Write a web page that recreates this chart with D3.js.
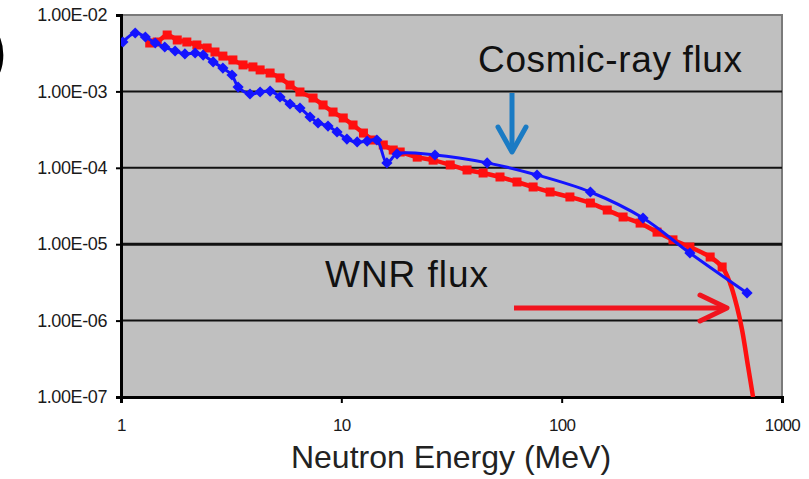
<!DOCTYPE html>
<html>
<head>
<meta charset="utf-8">
<script src="https://cdn.jsdelivr.net/npm/d3@7"></script>
<style>
  body { margin: 0; background: #fff; }
  text { font-family: "Liberation Sans", Arial, sans-serif; }
</style>
</head>
<body>
<div id="chart"></div>
<script>
// Cosmic-ray flux (blue, diamonds)
const cosmicEnergy = [1.02, 1.16, 1.29, 1.43, 1.58, 1.76, 1.95, 2.17, 2.36, 2.62, 2.9, 3.19, 3.4, 3.85, 4.28, 4.75, 5.27, 5.85, 6.49, 7.21, 7.84, 8.7, 9.56, 10.6, 11.8, 13.1, 14.5, 16.1, 17.9, 26.6, 45.9, 77.3, 135, 234, 382, 694];
const cosmicFlux = [4.43e-3, 5.81e-3, 5.15e-3, 4.3e-3, 3.81e-3, 3.38e-3, 3.09e-3, 3.18e-3, 2.99e-3, 2.43e-3, 2.02e-3, 1.64e-3, 1.14e-3, 9.25e-4, 9.82e-4, 1.01e-3, 8.45e-4, 6.84e-4, 6.06e-4, 4.62e-4, 3.86e-4, 3.52e-4, 2.94e-4, 2.38e-4, 2.18e-4, 2.24e-4, 2.31e-4, 1.16e-4, 1.52e-4, 1.47e-4, 1.16e-4, 8.05e-5, 4.82e-5, 2.2e-5, 7.67e-6, 2.3e-6];

// WNR flux (red, squares)
const wnrEnergy = [1.35, 1.46, 1.62, 1.8, 1.99, 2.21, 2.46, 2.67, 2.9, 3.22, 3.58, 3.97, 4.28, 4.75, 5.27, 5.85, 6.49, 7.44, 8.26, 9.17, 10.2, 11.3, 12.6, 13.9, 15.5, 17.2, 18.5, 22.1, 26.1, 31.2, 37.2, 44, 52.5, 62.7, 74.2, 88.6, 109, 135, 161, 190, 227, 271, 320, 382, 472, 535, 581, 625, 659, 702, 739];
const wnrFlux = [4.3e-3, 4.43e-3, 5.47e-3, 4.71e-3, 4.43e-3, 4.05e-3, 3.7e-3, 3.28e-3, 2.9e-3, 2.58e-3, 2.22e-3, 2.09e-3, 1.91e-3, 1.74e-3, 1.5e-3, 1.21e-3, 9.82e-4, 8.2e-4, 6.64e-4, 5.37e-4, 4.49e-4, 3.63e-4, 2.85e-4, 2.31e-4, 1.99e-4, 1.71e-4, 1.61e-4, 1.38e-4, 1.26e-4, 1.09e-4, 9.36e-5, 8.55e-5, 7.58e-5, 6.52e-5, 5.61e-5, 4.82e-5, 4.15e-5, 3.46e-5, 2.8e-5, 2.27e-5, 1.89e-5, 1.44e-5, 1.14e-5, 9.19e-6, 6.8e-6, 5.03e-6, 3.1e-6, 1.51e-6, 7.53e-7, 2.47e-7, 1.0e-7];
const wnrMarkerMax = 560; // squares only up to this energy

const xTicks = [1, 10, 100, 1000];
const xTickLabels = ['1', '10', '100', '1000'];
const yTicks = [1e-2, 1e-3, 1e-4, 1e-5, 1e-6, 1e-7];
const yTickLabels = ['1.00E-02', '1.00E-03', '1.00E-04', '1.00E-05', '1.00E-06', '1.00E-07'];

const W = 809, H = 479;
const plot = {left: 121, right: 782, top: 15, bottom: 397};

const svg = d3.select('#chart')
  .append('svg')
  .attr('width', W)
  .attr('height', H);

const x = d3.scaleLog().domain([1, 1000]).range([plot.left, plot.right]);
const y = d3.scaleLog().domain([1e-7, 1e-2]).range([plot.bottom, plot.top]);

svg.append('defs').append('clipPath')
  .attr('id', 'clip')
  .append('rect')
  .attr('x', plot.left).attr('y', plot.top)
  .attr('width', plot.right - plot.left)
  .attr('height', plot.bottom - plot.top);

// Plot background
svg.append('rect')
  .attr('x', plot.left).attr('y', plot.top)
  .attr('width', plot.right - plot.left)
  .attr('height', plot.bottom - plot.top)
  .attr('fill', '#c0c0c0')
  .attr('stroke', '#7a7a7a')
  .attr('stroke-width', 2);

// Gridlines
svg.append('g')
  .selectAll('line')
  .data(yTicks.slice(1, -1))
  .enter()
  .append('line')
  .attr('x1', plot.left).attr('x2', plot.right)
  .attr('y1', d => y(d)).attr('y2', d => y(d))
  .attr('stroke', '#111')
  .attr('stroke-width', d => d === 1e-5 ? 3 : 2);

// Y axis
const yAxis = svg.append('g')
  .attr('transform', `translate(${plot.left},0)`)
  .call(d3.axisLeft(y).tickValues(yTicks).tickSize(5).tickFormat((d, i) => yTickLabels[i]));
yAxis.select('.domain').attr('stroke', '#000').attr('stroke-width', 3);
yAxis.selectAll('.tick line').attr('stroke', '#000').attr('stroke-width', 2);
yAxis.selectAll('.tick text')
  .attr('x', -14)
  .style('font-size', '18px')
  .style('letter-spacing', '-0.4px')
  .attr('fill', '#1a1a1a');

// X axis
const xAxis = svg.append('g')
  .attr('transform', `translate(0,${plot.bottom})`)
  .call(d3.axisBottom(x).tickValues(xTicks).tickSize(6).tickFormat((d, i) => xTickLabels[i]));
xAxis.select('.domain').attr('stroke', '#000').attr('stroke-width', 3);
xAxis.selectAll('.tick line').attr('stroke', '#000').attr('stroke-width', 2);
xAxis.selectAll('.tick text')
  .attr('y', 22)
  .style('font-size', '17px')
  .style('letter-spacing', '-0.6px')
  .attr('fill', '#1a1a1a');

svg.append('text')
  .attr('x', 451).attr('y', 468)
  .attr('text-anchor', 'middle')
  .style('font-size', '32px')
  .attr('fill', '#222')
  .text('Neutron Energy (MeV)');

// Series
const cosmic = cosmicEnergy.map((e, i) => ({e, f: cosmicFlux[i]}));
const wnr = wnrEnergy.map((e, i) => ({e, f: wnrFlux[i]}));

const line = d3.line()
  .x(d => x(d.e))
  .y(d => y(d.f))
  .curve(d3.curveCatmullRom.alpha(0.5));

const series = svg.append('g').attr('clip-path', 'url(#clip)');

series.append('path')
  .attr('d', line(wnr))
  .attr('fill', 'none')
  .attr('stroke', '#ff1010')
  .attr('stroke-width', 4.5);

series.selectAll('.sq')
  .data(wnr.filter(d => d.e <= wnrMarkerMax))
  .enter()
  .append('rect')
  .attr('x', d => x(d.e) - 4.5)
  .attr('y', d => y(d.f) - 4.5)
  .attr('width', 9).attr('height', 9)
  .attr('fill', '#ff1010');

series.append('path')
  .attr('d', line(cosmic))
  .attr('fill', 'none')
  .attr('stroke', '#1414ff')
  .attr('stroke-width', 3);

series.selectAll('.dm')
  .data(cosmic)
  .enter()
  .append('path')
  .attr('d', d3.symbol().type(d3.symbolDiamond2).size(80))
  .attr('transform', d => `translate(${x(d.e)},${y(d.f)})`)
  .attr('fill', '#1414ff');

// Annotations
svg.append('text')
  .attr('x', 478).attr('y', 72)
  .style('font-size', '37px')
  .attr('fill', '#111')
  .attr('textLength', 264)
  .text('Cosmic-ray flux');

svg.append('text')
  .attr('x', 325).attr('y', 287)
  .style('font-size', '37px')
  .attr('fill', '#111')
  .attr('textLength', 163)
  .text('WNR flux');

// Blue arrow (down)
svg.append('line')
  .attr('x1', 512).attr('y1', 93).attr('x2', 512).attr('y2', 150)
  .attr('stroke', '#1a7bc4').attr('stroke-width', 5);
svg.append('path')
  .attr('d', 'M498,127 L512,152 L526,127')
  .attr('fill', 'none')
  .attr('stroke', '#1a7bc4').attr('stroke-width', 5)
  .attr('stroke-linejoin', 'round').attr('stroke-linecap', 'round');

// Red arrow (right)
svg.append('line')
  .attr('x1', 514).attr('y1', 308).attr('x2', 724).attr('y2', 308)
  .attr('stroke', '#f0141e').attr('stroke-width', 5);
svg.append('path')
  .attr('d', 'M700,295 L727,308 L700,321')
  .attr('fill', 'none')
  .attr('stroke', '#f0141e').attr('stroke-width', 5)
  .attr('stroke-linejoin', 'round').attr('stroke-linecap', 'round');

// Cropped panel label
svg.append('text')
  .attr('x', -14).attr('y', 72)
  .style('font-size', '64px')
  .attr('fill', '#000')
  .text(')');
</script>
</body>
</html>
